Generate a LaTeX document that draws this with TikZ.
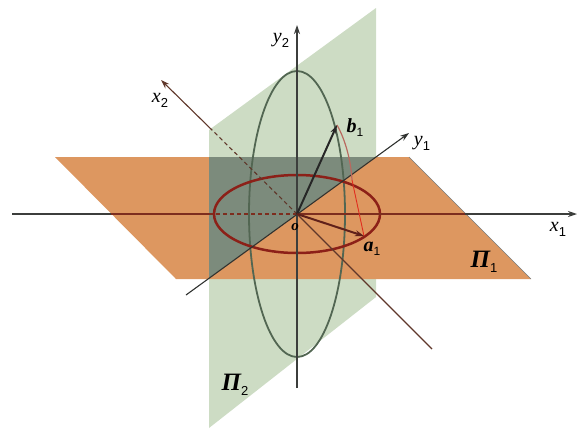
\documentclass[tikz,border=0pt]{standalone}
\usepackage{fontspec}
\setmainfont{Liberation Serif}
\newfontfamily\subsans{Liberation Sans}
\usetikzlibrary{arrows.meta}
\definecolor{orangeP}{RGB}{221,151,96}
\definecolor{greenP}{RGB}{205,220,196}
\definecolor{darkP}{RGB}{124,139,124}
\definecolor{grayE}{RGB}{82,102,82}
\definecolor{redE}{RGB}{140,32,24}
\definecolor{axisG}{RGB}{60,62,60}
\definecolor{axisR}{RGB}{125,45,30}
\definecolor{axisB}{RGB}{95,55,42}
\definecolor{vecA}{RGB}{95,32,26}
\definecolor{arcR}{RGB}{185,105,95}
\definecolor{lineR}{RGB}{225,45,30}
\newcommand\lab[2]{\textit{#1}\raisebox{-0.25em}{\subsans\fontsize{13}{13}\selectfont #2}}
\newcommand\sublab[2]{\raisebox{-0.2em}{\subsans\fontsize{#1}{#1}\selectfont\mdseries\upshape #2}}
\tikzset{
  axisline/.style={line width=1.1pt},
  tip/.style={-{Stealth[length=9pt,width=6pt]}},
  axislabel/.style={inner sep=0pt,font=\fontsize{20}{20}\selectfont},
  veclabel/.style={inner sep=0pt,font=\fontsize{20}{20}\selectfont\bfseries\itshape},
  planelabel/.style={inner sep=0pt,font=\fontsize{25}{25}\selectfont\bfseries\itshape},
}
\begin{document}
\begin{tikzpicture}[x=1pt,y=-1pt]
\useasboundingbox (0,0) rectangle (581,432);
% key points
\coordinate (O) at (297,214);
\coordinate (G1) at (209,130);
\coordinate (G2) at (376,8);
\coordinate (G3) at (376,297);
\coordinate (G4) at (209,428);
\coordinate (P1) at (55,157);
\coordinate (P2) at (409,157);
\coordinate (P3) at (531,279);
\coordinate (P4) at (176,279);
\coordinate (D1) at (209,157);
\coordinate (D2) at (375,157);
\coordinate (D3) at (209,278);
\coordinate (X1a) at (12,214);
\coordinate (X1b) at (111,214);
\coordinate (X1c) at (209,214);
\coordinate (X1d) at (465,214);
\coordinate (X1e) at (577,214);
\coordinate (Y2a) at (297,388);
\coordinate (Y2b) at (297,25);
\coordinate (Y1a) at (186,295);
\coordinate (Y1b) at (409,133);
\coordinate (X2a) at (432,349);
\coordinate (X2c) at (212,130);
\coordinate (X2b) at (161,80);
\coordinate (A) at (364,236);
\coordinate (B) at (337,125);
\coordinate (C) at (352,180);
% planes
\fill[greenP] (G1) -- (G2) -- (G3) -- (G4) -- cycle;
\fill[orangeP] (P1) -- (P2) -- (P3) -- (P4) -- cycle;
\draw[axisG!70,line width=0.6pt] (P2) -- (P3);
\fill[darkP] (D1) -- (D2) -- (D3) -- cycle;
% circles
\draw[grayE,line width=1.8pt] (O) ellipse [x radius=48,y radius=143];
\draw[redE,line width=2.5pt] (O) ellipse [x radius=83,y radius=39];
% x1 axis
\draw[axisG,axisline] (X1a) -- (X1b);
\draw[axisR,axisline] (X1b) -- (X1c);
\draw[axisR,axisline,dash pattern=on 4pt off 3pt] (X1c) -- (O);
\draw[axisR,axisline] (O) -- (X1d);
\draw[axisG,axisline,tip] (X1d) -- (X1e);
% y2 axis
\draw[axisG,axisline,tip] (Y2a) -- (Y2b);
% y1 axis
\draw[axisG!80!black,axisline,tip] (Y1a) -- (Y1b);
% x2 axis
\draw[axisB,axisline] (X2a) -- (O);
\draw[axisB,axisline,dash pattern=on 4pt off 3pt] (O) -- (X2c);
\draw[axisB,axisline,-{Stealth[length=9pt,width=6pt,fill=lineR!70!black]}] (X2c) -- (X2b);
% rotation arc
\draw[arcR,line width=1.2pt] (B) .. controls (346,141) and (351,162) .. (C);
\draw[lineR,line width=0.9pt] (C) -- (A);
% vectors
\draw[black!85,line width=2pt,-{Stealth[length=9pt,width=6pt]}] (O) -- (B);
\draw[vecA,line width=2pt,-{Stealth[length=9pt,width=6pt]}] (O) -- (A);
% labels
\node[axislabel] (lx1) at (558,229) {\lab{x}{1}};
\node[axislabel] (ly1) at (422,143) {\lab{y}{1}};
\node[axislabel] (ly2) at (281,40) {\lab{y}{2}};
\node[axislabel] (lx2) at (160,100) {\lab{x}{2}};
\node[veclabel] (lb) at (355,128) {b\sublab{12}{1}};
\node[veclabel] (la) at (372,249) {a\sublab{12}{1}};
\node[veclabel,font=\fontsize{15}{15}\selectfont\bfseries\itshape] (lo) at (295,227) {o};
\node[planelabel] (lp1) at (484,262) {Π\sublab{13}{1}};
\node[planelabel] (lp2) at (235,385) {Π\sublab{13}{2}};
\end{tikzpicture}
\end{document}
